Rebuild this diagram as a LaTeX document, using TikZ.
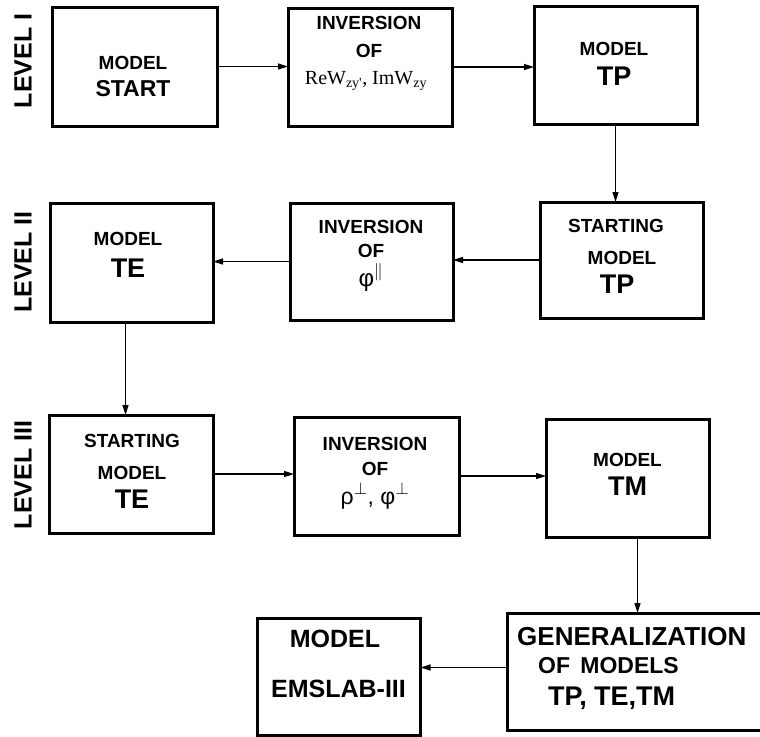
\documentclass[tikz,border=0pt]{standalone}
\usepackage{fontspec}
\setmainfont{Liberation Sans}
\newfontfamily\timesfont{Liberation Serif}
\usetikzlibrary{arrows.meta}

\tikzset{
  block/.style 2 args={draw, line width=3pt, inner sep=0pt, outer sep=0pt,
    minimum width=#1pt, minimum height=#2pt},
  txt/.style={anchor=base, inner sep=0pt, font=\bfseries\fontsize{#1}{#1}\selectfont},
  txt/.default=19,
  greek/.style={anchor=base, inner sep=0pt, font=\fontsize{#1}{#1}\selectfont},
  level/.style={rotate=90, inner sep=0pt, font=\bfseries\fontsize{25}{25}\selectfont},
  flow/.style={line width=1.5pt, -{Triangle[length=10pt,width=6pt]}},
}

\begin{document}
\begin{tikzpicture}[x=1pt, y=-1pt]
\useasboundingbox (0,0) rectangle (760,736);

% levels
\node[level] (lvlone) at (23,61) {LEVEL I};
\node[level] (lvltwo) at (23,262) {LEVEL II};
\node[level] (lvlthree) at (23,475) {LEVEL III};

% level I
\node[block={165}{119}] (start) at (134.5,66.5) {};
\node[txt] (startA) at (133,69) {MODEL};
\node[txt=23] (startB) at (133,96) {START};

\node[block={164}{118}] (invre) at (370,67) {};
\node[txt] (invreA) at (369,29) {INVERSION};
\node[txt] (invreB) at (369,57) {OF};
\node[txt, font=\timesfont\fontsize{20}{20}\selectfont] (invreC) at (366,84)
  {ReW\textsubscript{zy'}, ImW\textsubscript{zy}};

\node[block={163}{118}] (tpmodel) at (615.5,65) {};
\node[txt] (tpmodelA) at (614,55) {MODEL};
\node[txt=27] (tpmodelB) at (614,85) {TP};

% level II
\node[block={163}{116}] (tpstart) at (621.5,260) {};
\node[txt] (tpstartA) at (616,232) {STARTING};
\node[txt] (tpstartB) at (622,264) {MODEL};
\node[txt=27] (tpstartC) at (617,293) {TP};

\node[block={163}{117}] (invphi) at (371.5,261.5) {};
\node[txt] (invphiA) at (371,233) {INVERSION};
\node[txt] (invphiB) at (371,257) {OF};
\node[greek=24] (invphiC) at (371,286) {φ$^{\parallel}$};

\node[block={163}{119}] (temodel) at (131.5,262.5) {};
\node[txt] (temodelA) at (128,245) {MODEL};
\node[txt=27] (temodelB) at (128,277) {TE};

% level III
\node[block={164}{118}] (testart) at (131,474) {};
\node[txt] (testartA) at (132,447) {STARTING};
\node[txt] (testartB) at (132,479) {MODEL};
\node[txt=27] (testartC) at (132,508) {TE};

\node[block={165}{118}] (invrho) at (376.5,476) {};
\node[txt] (invrhoA) at (375,450) {INVERSION};
\node[txt] (invrhoB) at (375,475) {OF};
\node[greek=23] (invrhoC) at (375,504) {ρ$^{\perp}$, φ$^{\perp}$};

\node[block={163}{118}] (tmmodel) at (627.5,478) {};
\node[txt] (tmmodelA) at (627.5,466) {MODEL};
\node[txt=27] (tmmodelB) at (627.5,495) {TM};

% result
\node[block={268}{117}] (general) at (641,671.5) {};
\node[txt=26, anchor=base west] (generalA) at (517,645) {GENERALIZATION};
\node[txt=23, anchor=base west] (generalB) at (538,673) {OF\ \,MODELS};
\node[txt=27, anchor=base west] (generalC) at (548,705) {TP, TE,TM};

\node[block={163}{117}] (emslab) at (339,676.5) {};
\node[txt=25] (emslabA) at (335,647) {MODEL};
\node[txt=25] (emslabB) at (338.5,697) {EMSLAB-III};

% arrows
\draw[flow] (start.east) -- (start.east -| invre.west);
\draw[flow] (invre.east) -- (invre.east -| tpmodel.west);
\draw[flow] (tpmodel.south) -- (tpmodel.south |- tpstart.north);
\draw[flow] (tpstart.west) -- (tpstart.west -| invphi.east);
\draw[flow] (invphi.west) -- (invphi.west -| temodel.east);
\draw[flow] ([xshift=-6pt]temodel.south) -- ([xshift=-6pt]temodel.south |- testart.north);
\draw[flow] (testart.east) -- (testart.east -| invrho.west);
\draw[flow] (invrho.east) -- (invrho.east -| tmmodel.west);
\draw[flow] ([xshift=10pt]tmmodel.south) -- ([xshift=10pt]tmmodel.south |- general.north);
\draw[flow] ([yshift=4pt]general.west) -- ([yshift=4pt]general.west -| emslab.east);
\end{tikzpicture}
\end{document}
